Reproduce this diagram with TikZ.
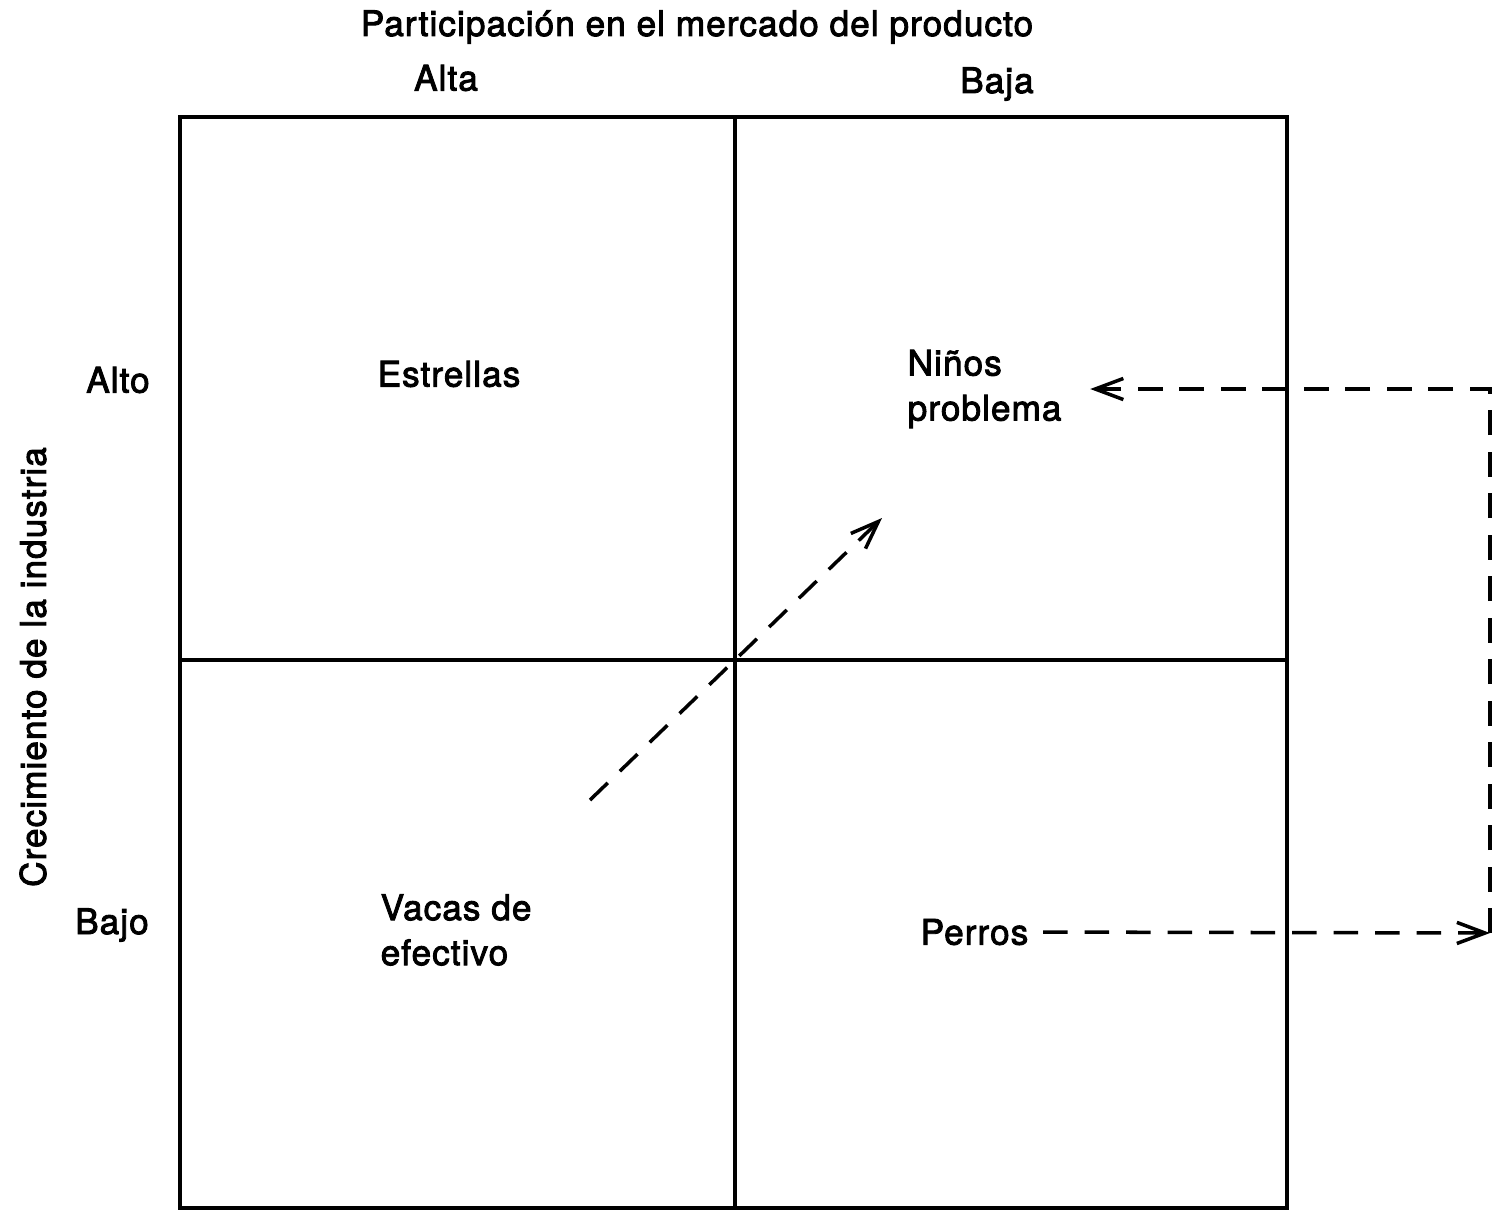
\documentclass[tikz,border=0pt]{standalone}
\usepackage{fontspec}
\setmainfont[LetterSpace=3]{TeX Gyre Heros}
\newfontfamily\lblfont[FakeBold=2.5,LetterSpace=3]{TeX Gyre Heros}
\usetikzlibrary{arrows.meta}
\begin{document}
\begin{tikzpicture}[x=0.01cm,y=-0.01cm,
  lbl/.style={font=\lblfont\fontsize{10}{12.8}\selectfont, inner sep=0pt},
  gridline/.style={line width=1pt},
  dsh/.style={line width=1pt, dash pattern=on 7pt off 4.8pt, -{Straight Barb[length=8pt,width=6pt]}}]
\useasboundingbox (0,0) rectangle (1500,1217);
% matrix
\draw[gridline] (180,117) rectangle (1287,1208);
\draw[gridline] (735,117) -- (735,1208);
\draw[gridline] (180,660) -- (1287,660);
% labels
\node[lbl] (title) at (697,27) {Participación en el mercado del producto};
\node[lbl] (alta) at (446,78) {Alta};
\node[lbl] (baja) at (997,84) {Baja};
\node[lbl] (alto) at (118,380) {Alto};
\node[lbl] (bajo) at (112,925) {Bajo};
\node[lbl, rotate=90] (crec) at (33,667) {Crecimiento de la industria};
\node[lbl] (estrellas) at (449,374) {Estrellas};
\node[lbl, align=left, anchor=west] (ninos) at (907,389) {Niños\\problema};
\node[lbl, align=left, anchor=west] (vacas) at (380,930) {Vacas de\\efectivo};
\node[lbl, anchor=west] (perros) at (920,932) {Perros};
% connectors
\coordinate (d1) at (590,800);
\coordinate (d2) at (882,518);
\coordinate (corner) at (1490,933);
\draw[dsh] (d1) -- (d2);
\draw[dsh, shorten <=0.14cm] (perros.east) -- (corner);
\draw[dsh, shorten >=0.28cm] (corner) |- (ninos.east);
\end{tikzpicture}
\end{document}
